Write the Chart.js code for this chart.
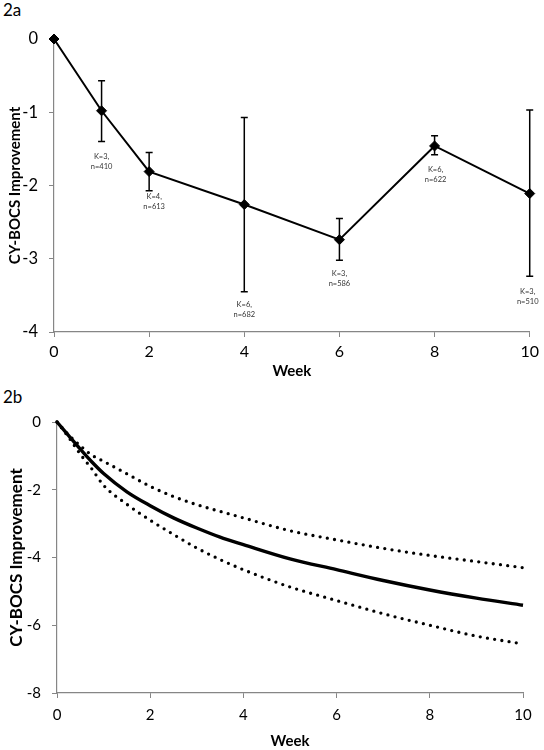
<!DOCTYPE html>
<html>
<head>
<meta charset="utf-8">
<script src="https://cdn.jsdelivr.net/npm/chart.js@4.4.1/dist/chart.umd.min.js"></script>
<style>
body{margin:0;background:#fff;width:544px;height:750px;position:relative;overflow:hidden;font-family:Lato,sans-serif;}
.tag{position:absolute;left:3px;font-size:17px;color:#000;line-height:20px;}
#c1{position:absolute;left:0;top:0;}
#c2{position:absolute;left:0;top:380px;}
</style>
</head>
<body>
<div class="tag" style="top:0px">2a</div>
<div class="tag" style="top:387px">2b</div>
<canvas id="c1" width="544" height="380"></canvas>
<canvas id="c2" width="544" height="370"></canvas>
<script>
// 2a - observed mean change by week
const weeks = [0, 1, 2, 4, 6, 8, 10];
const meanChange = [0, -0.98, -1.81, -2.26, -2.74, -1.46, -2.11];
const ciLow = [null, -1.40, -2.07, -3.45, -3.02, -1.58, -3.24];
const ciHigh = [null, -0.57, -1.55, -1.07, -2.45, -1.32, -0.97];
const kLabels = ['', 'K=3,', 'K=4,', 'K=6,', 'K=3,', 'K=6,', 'K=3,'];
const nLabels = ['', 'n=410', 'n=613', 'n=682', 'n=586', 'n=622', 'n=510'];

// 2b - fitted curve and bounds
const fitWeeks = [0, 0.25, 0.5, 0.75, 1, 1.5, 2, 2.5, 3, 3.5, 4, 5, 6, 7, 8, 9, 10];
const fitMean = [0, -0.4, -0.8, -1.18, -1.52, -2.06, -2.47, -2.83, -3.13, -3.4, -3.62, -4.04, -4.36, -4.68, -4.96, -5.2, -5.41];
const fitUpper = [0, -0.38, -0.7, -0.98, -1.16, -1.53, -1.9, -2.2, -2.44, -2.64, -2.83, -3.21, -3.48, -3.73, -3.94, -4.12, -4.3];
const fitLower = [0, -0.45, -0.95, -1.39, -1.87, -2.43, -2.9, -3.32, -3.72, -4.06, -4.36, -4.87, -5.27, -5.66, -6.0, -6.32, -6.55];

const FONT = 'Lato';
const AXIS = '#868686';

// label nudges (px) for the K/n notes under each error bar
const noteDy = [0, 15, 6, 13, 13, 15, 15.5];
const noteDx = [0, 0, 5, 0, 0, 1, -2];

const errorBars = {
  id: 'errorBars',
  beforeDatasetsDraw(chart) {
    const x = chart.scales.x, y = chart.scales.y, ctx = chart.ctx;
    ctx.save();
    ctx.strokeStyle = '#000';
    ctx.lineWidth = 1.5;
    weeks.forEach((w, i) => {
      if (ciLow[i] == null) return;
      const px = x.getPixelForValue(w);
      const top = y.getPixelForValue(ciHigh[i]);
      const bot = y.getPixelForValue(ciLow[i]);
      ctx.beginPath();
      ctx.moveTo(px, top); ctx.lineTo(px, bot);
      ctx.moveTo(px - 3.5, top); ctx.lineTo(px + 3.5, top);
      ctx.moveTo(px - 3.5, bot); ctx.lineTo(px + 3.5, bot);
      ctx.stroke();
    });
    ctx.restore();
  },
  afterDatasetsDraw(chart) {
    const x = chart.scales.x, y = chart.scales.y, ctx = chart.ctx;
    ctx.save();
    ctx.fillStyle = '#333';
    ctx.font = '7.5px ' + FONT;
    ctx.textAlign = 'center';
    ctx.textBaseline = 'middle';
    weeks.forEach((w, i) => {
      if (!kLabels[i]) return;
      const px = x.getPixelForValue(w) + noteDx[i];
      const py = y.getPixelForValue(ciLow[i]) + noteDy[i];
      ctx.fillText(kLabels[i], px, py);
      ctx.fillText(nLabels[i], px, py + 10);
    });
    ctx.restore();
  }
};

function xAxis(h, pad, size) {
  return {
    type: 'linear', min: 0, max: 10,
    ticks: {stepSize: 2, padding: pad, color: '#000', font: {family: FONT, size: size}},
    grid: {drawOnChartArea: false, color: AXIS, tickLength: 5},
    border: {color: AXIS, width: 1.2},
    title: {display: true, text: 'Week', color: '#000', padding: 0,
      font: {family: FONT, size: 15, weight: 'bold'}},
    afterFit(s) { s.height = h; }
  };
}

function yAxis(min, step, w, size, titleSize) {
  return {
    min: min, max: 0,
    ticks: {stepSize: step, padding: 11, color: '#000', font: {family: FONT, size: size}},
    grid: {drawOnChartArea: false, color: AXIS, tickLength: 5},
    border: {color: AXIS, width: 1.2},
    title: {display: true, text: 'CY-BOCS Improvement', color: '#000', padding: {top: 6, bottom: 0},
      font: {family: FONT, size: titleSize, weight: 'bold'}},
    afterFit(s) { s.width = w; }
  };
}

new Chart(document.getElementById('c1'), {
  type: 'line',
  data: {
    datasets: [{
      data: weeks.map((w, i) => ({x: w, y: meanChange[i]})),
      borderColor: '#000',
      borderWidth: 2,
      backgroundColor: '#000',
      pointStyle: 'rectRot',
      pointRadius: 5,
      pointBorderWidth: 1,
      tension: 0,
      clip: false
    }]
  },
  options: {
    responsive: false,
    animation: false,
    devicePixelRatio: 1,
    layout: {padding: {top: 39, right: 12, left: 0, bottom: 0}},
    plugins: {legend: {display: false}, tooltip: {enabled: false}},
    scales: {x: xAxis(48, 5, 16), y: yAxis(-4, 1, 54, 16.5, 15)}
  },
  plugins: [errorBars]
});

const dotted = {
  borderColor: '#000', borderWidth: 3.3, borderDash: [0, 7.3], borderCapStyle: 'round',
  pointRadius: 0, cubicInterpolationMode: 'monotone', fill: false, clip: false
};

new Chart(document.getElementById('c2'), {
  type: 'line',
  data: {
    datasets: [
      Object.assign({data: fitWeeks.map((w, i) => ({x: w, y: fitUpper[i]}))}, dotted),
      Object.assign({data: fitWeeks.map((w, i) => ({x: w, y: fitLower[i]}))}, dotted),
      {
        data: fitWeeks.map((w, i) => ({x: w, y: fitMean[i]})),
        borderColor: '#000', borderWidth: 3.4, pointRadius: 0,
        cubicInterpolationMode: 'monotone', fill: false, clip: false
      }
    ]
  },
  options: {
    responsive: false,
    animation: false,
    devicePixelRatio: 1,
    layout: {padding: {top: 42, right: 21, left: 0, bottom: 0}},
    plugins: {legend: {display: false}, tooltip: {enabled: false}},
    scales: {x: xAxis(57, 8, 15), y: yAxis(-8, 2, 57, 15, 17)}
  }
});
</script>
</body>
</html>
